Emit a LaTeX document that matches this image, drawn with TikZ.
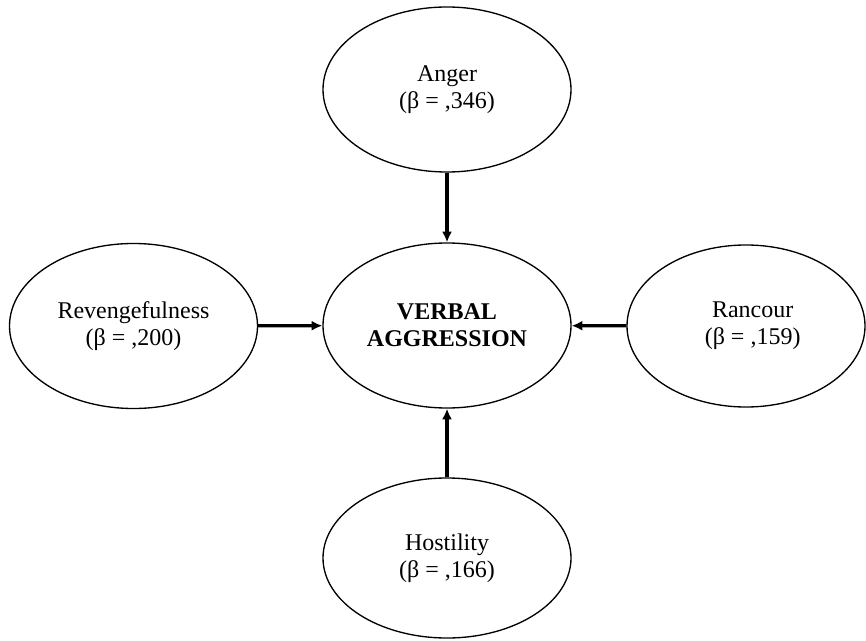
\documentclass[tikz,border=0pt]{standalone}
\usepackage{fontspec}
\setmainfont{Liberation Serif}
\usetikzlibrary{arrows.meta,shapes.geometric,positioning}
\tikzset{line width=1pt,
  every node/.style={font=\fontsize{18}{20.3}\selectfont},
  factor/.style={ellipse,draw=black,line width=1pt,align=center,inner sep=0pt,
    minimum width=186pt,minimum height=123.75pt},
  effect/.style={-{Latex[length=8pt,width=7.5pt]},line width=2.4pt}}

\begin{document}
\begin{tikzpicture}[x=0.75pt,y=-0.75pt]
\useasboundingbox (0,0) rectangle (866,641);

\node[factor] (verbal) at (447,325.5) {\textbf{VERBAL}\\\textbf{AGGRESSION}};
\node[factor] (anger) at (447,89.5) {Anger\\(β = ,346)};
\node[factor] (reveng) at (133.5,326) {Revengefulness\\(β = ,200)};
\node[factor,minimum width=178.5pt,minimum height=121.5pt] (rancour) at (746,326) {\hspace*{10pt}Rancour\\\hspace*{10pt}(β = ,159)};
\node[factor,minimum height=120pt] (hostil) at (447,558) {Hostility\\(β = ,166)};

\draw[effect] (anger) -- (verbal);
\draw[effect] (reveng) -- (verbal);
\draw[effect] (rancour) -- (verbal);
\draw[effect] (hostil) -- (verbal);
\end{tikzpicture}
\end{document}
